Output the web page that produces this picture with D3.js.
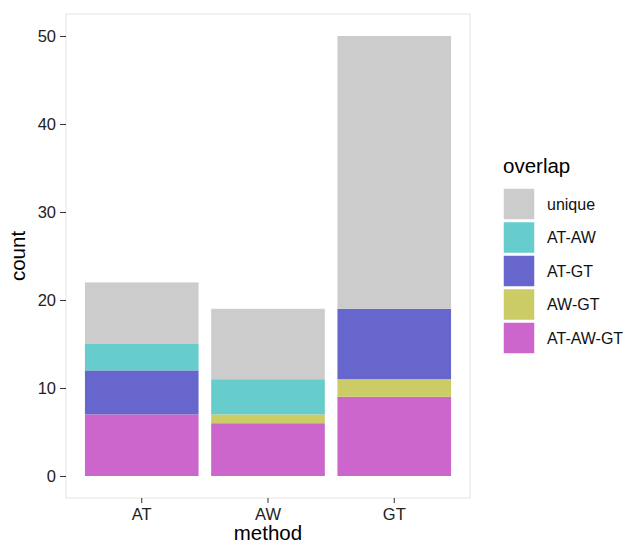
<!DOCTYPE html>
<html><head><meta charset="utf-8">
<script src="https://cdn.jsdelivr.net/npm/d3@7"></script>
<style>body{margin:0;background:#fff;font-family:"Liberation Sans",Arial,sans-serif;}</style>
</head><body>
<svg id="c" width="633" height="546"></svg>
<script>
const methods = ["AT", "AW", "GT"];
const overlapLevels = ["unique", "AT-AW", "AT-GT", "AW-GT", "AT-AW-GT"];
const overlapColors = ["#cccccc", "#66cccc", "#6666cc", "#cccc66", "#cc66cc"];
const uniqueVals   = [7, 8, 31];
const atAwVals     = [3, 4, 0];
const atGtVals     = [5, 0, 8];
const awGtVals     = [0, 1, 2];
const atAwGtVals   = [7, 6, 9];
const yTicks = [0, 10, 20, 30, 40, 50];

const seriesVals = {"unique": uniqueVals, "AT-AW": atAwVals, "AT-GT": atGtVals, "AW-GT": awGtVals, "AT-AW-GT": atAwGtVals};
const rows = methods.map((m, i) => {
  const r = {method: m};
  overlapLevels.forEach(k => r[k] = seriesVals[k][i]);
  return r;
});
const stackOrder = overlapLevels.slice().reverse();
const stacked = d3.stack().keys(stackOrder)(rows);

const svg = d3.select("#c");
const P = {l: 66, r: 470, t: 14, b: 498};
const y = d3.scaleLinear().domain([-2.5, 52.5]).range([P.b, P.t]);
const x = d3.scaleBand().domain(methods).range([P.l, P.r]).paddingInner(0.1).paddingOuter(0.15);
const color = d3.scaleOrdinal().domain(overlapLevels).range(overlapColors);

svg.append("rect").attr("x", P.l).attr("y", P.t).attr("width", P.r - P.l).attr("height", P.b - P.t)
  .attr("fill", "#fff").attr("stroke", "#e3e3e3").attr("stroke-width", 1);

svg.append("g").selectAll("g").data(stacked).join("g")
  .attr("fill", d => color(d.key))
  .selectAll("rect").data(d => d.filter(v => v[1] > v[0])).join("rect")
  .attr("x", d => x(d.data.method))
  .attr("width", x.bandwidth())
  .attr("y", d => y(d[1]))
  .attr("height", d => y(d[0]) - y(d[1]));

const yAxis = svg.append("g").attr("transform", `translate(${P.l},0)`)
  .call(d3.axisLeft(y).tickValues(yTicks).tickSize(6).tickPadding(4));
yAxis.select(".domain").remove();
yAxis.selectAll("line").attr("stroke", "#333");
yAxis.selectAll("text").attr("fill", "#222").style("font-size", "16.5px").style("font-family", "Liberation Sans, Arial, sans-serif");

const xAxis = svg.append("g").attr("transform", `translate(0,${P.b})`)
  .call(d3.axisBottom(x).tickSize(5).tickPadding(5));
xAxis.select(".domain").remove();
xAxis.selectAll("line").attr("stroke", "#333");
xAxis.selectAll("text").attr("fill", "#222").style("font-size", "16.5px").style("font-family", "Liberation Sans, Arial, sans-serif");

svg.append("text").attr("x", (P.l + P.r) / 2).attr("y", 540).attr("text-anchor", "middle")
  .style("font-size", "20.5px").attr("fill", "#000").text("method");
svg.append("text").attr("transform", `translate(25,${(P.t + P.b) / 2}) rotate(-90)`).attr("text-anchor", "middle")
  .style("font-size", "20.5px").attr("fill", "#000").text("count");

const lg = svg.append("g").attr("transform", "translate(503,0)");
lg.append("text").attr("x", 0).attr("y", 173).style("font-size", "20.5px").attr("fill", "#000").text("overlap");
const item = lg.selectAll("g.it").data(overlapLevels).join("g").attr("class", "it")
  .attr("transform", (d, i) => `translate(0,${188 + i * 33.5})`);
item.append("rect").attr("width", 32).attr("height", 32).attr("fill", d => color(d)).attr("stroke", "#fff").attr("stroke-width", 1.5);
item.append("text").attr("x", 44).attr("y", 16).attr("dy", "0.35em").style("font-size", "16px").attr("fill", "#111").text(d => d);
</script>
</body></html>
